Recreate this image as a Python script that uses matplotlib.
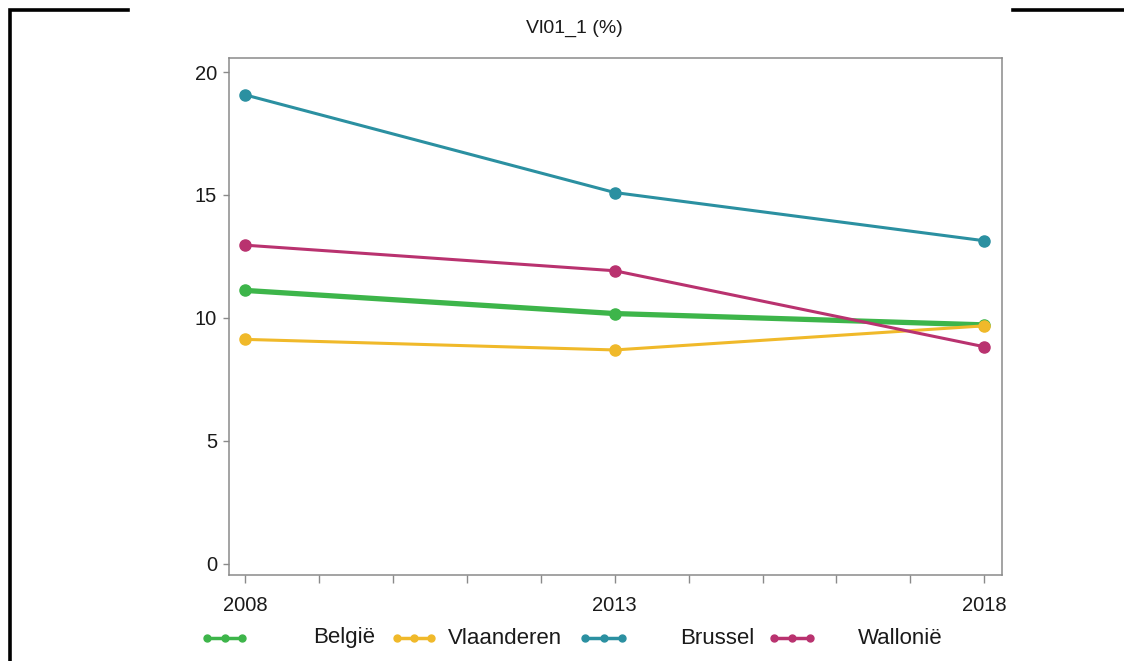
import matplotlib.pyplot as plt
from matplotlib.lines import Line2D

plt.rcParams['font.family'] = ['Liberation Sans', 'DejaVu Sans']

years = [2008, 2013, 2018]
belgie = [11.12, 10.18, 9.72]
vlaanderen = [9.13, 8.70, 9.68]
brussel = [19.07, 15.10, 13.14]
wallonie = [12.96, 11.92, 8.83]

names = ['België', 'Vlaanderen', 'Brussel', 'Wallonië']
series = [belgie, vlaanderen, brussel, wallonie]
colors = ['#3db54a', '#f0b92a', '#2b90a1', '#b9326f']
widths = [3.8, 2.2, 2.2, 2.2]

W, H = 1124, 661
fig = plt.figure(figsize=(W / 100, H / 100), dpi=100)
ax = fig.add_axes([229 / W, 1 - 575 / H, (1002 - 229) / W, (575 - 58) / H])

for vals, c, lw in zip(series, colors, widths):
    ax.plot(years, vals, color=c, lw=lw, marker='o', markersize=8,
            solid_capstyle='round')

ax.set_xlim(2007.78, 2018.24)
ax.set_ylim(-0.45, 20.57)
all_years = list(range(2008, 2019))
ax.set_xticks(all_years)
ax.set_xticklabels([str(y) if y in years else '' for y in all_years])
ax.set_yticks([0, 5, 10, 15, 20])

for s in ax.spines.values():
    s.set_color('#8a8a8a')
    s.set_linewidth(1.1)
ax.tick_params(axis='x', length=6, width=1, color='#8a8a8a', pad=9,
               labelsize=14.5, labelcolor='#1a1a1a')
ax.tick_params(axis='y', length=4.5, width=1, color='#8a8a8a', pad=4,
               labelsize=14.5, labelcolor='#1a1a1a')

fig.text(574 / W, 1 - 28 / H, 'Vl01_1 (%)', ha='center', va='center',
         fontsize=14, color='#1a1a1a')

# legend drawn by hand to match the spacing
handles = [(207, 242), (397, 431), (585, 622), (774, 810)]
label_x = [313, 448, 680, 858]
ly = 1 - 638 / H
for (x0, x1), tx, name, c in zip(handles, label_x, names, colors):
    xs = [x0 / W, (x0 + x1) / 2 / W, x1 / W]
    fig.add_artist(Line2D(xs, [ly] * 3, color=c, lw=2.5, marker='o',
                          markersize=5, transform=fig.transFigure))
    fig.text(tx / W, ly, name, ha='left', va='center', fontsize=16,
             color='#1a1a1a')

# black frame corners
fig.add_artist(Line2D([9.5 / W, 9.5 / W, 128 / W], [0, 1 - 9.5 / H, 1 - 9.5 / H],
                      color='black', lw=2.6, transform=fig.transFigure,
                      solid_joinstyle='miter'))
fig.add_artist(Line2D([1013 / W, 1], [1 - 9.5 / H, 1 - 9.5 / H],
                      color='black', lw=2.6, transform=fig.transFigure))

fig.savefig('out.png', dpi=100)
